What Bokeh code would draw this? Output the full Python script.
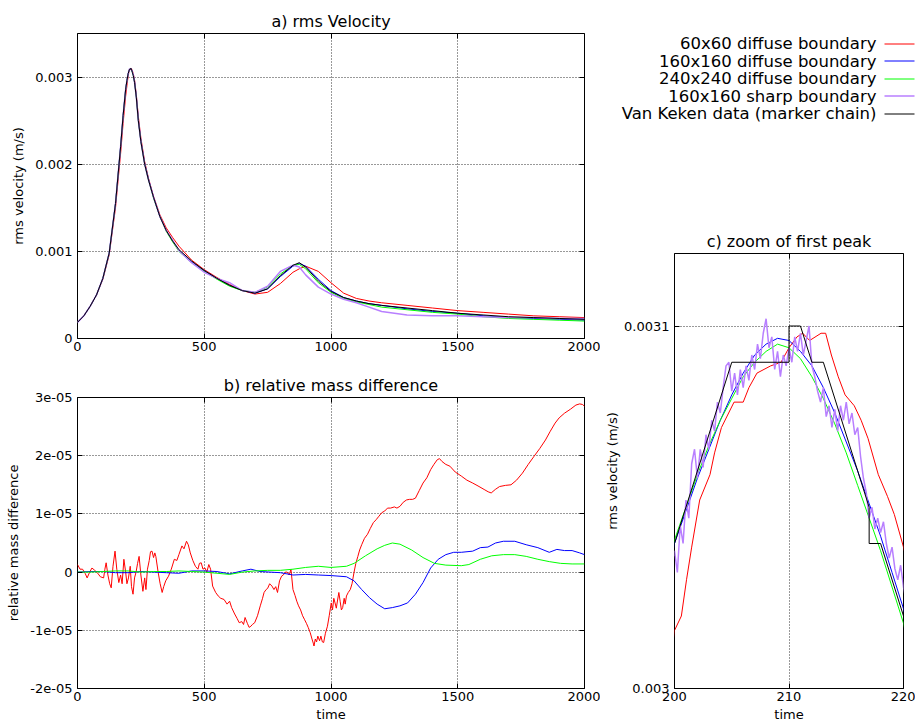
from bokeh.plotting import figure
from bokeh.models import Range1d, FixedTicker, LinearAxis, Title, Label, Arrow
from bokeh.layouts import row, column
from bokeh.embed import file_html
from bokeh.resources import INLINE

FONT = "DejaVu Sans"

# ---------------- legend / series ----------------
series_names = ["60x60 diffuse boundary", "160x160 diffuse boundary", "240x240 diffuse boundary",
                "160x160 sharp boundary", "Van Keken data (marker chain)"]
series_colors = ["#ff0000", "#0000ff", "#00ff00", "#b87fff", "#000000"]

# ---------------- a) rms velocity ----------------
t_early = [0, 25, 50, 75, 100, 125, 150, 170, 180, 190, 195]
t_late = [225, 232, 240, 250, 265, 280, 300, 325, 350, 375, 400, 450, 500, 550, 600, 650, 700, 750,
          800, 850, 875, 900, 950, 1000, 1050, 1100, 1150, 1200, 1300, 1400, 1500, 1600, 1700, 1800,
          1900, 2000]

v_early_common = [0.000185, 0.00026, 0.00037, 0.0005, 0.00069, 0.00098, 0.00155, 0.0022, 0.00256,
                  0.00286, 0.00296]
v_early_red = [0.000185, 0.00026, 0.00037, 0.0005, 0.00068, 0.00096, 0.0015, 0.00212, 0.00247,
               0.00278, 0.0029]

v_late_red = [0.00297, 0.0028, 0.00255, 0.0023, 0.00203, 0.00184, 0.00163, 0.00142, 0.00127, 0.00116,
              0.00106, 0.0009, 0.00079, 0.0007, 0.00062, 0.00055, 0.00051, 0.00053, 0.00063, 0.00076,
              0.0008, 0.00083, 0.00077, 0.00064, 0.00052, 0.00046, 0.00043, 0.00041, 0.00038, 0.00035,
              0.00032, 0.0003, 0.00028, 0.00026, 0.00025, 0.00024]
v_late_blue = [0.00295, 0.00278, 0.00251, 0.00227, 0.00201, 0.00183, 0.00162, 0.0014, 0.00124, 0.00112,
               0.00101, 0.00088, 0.00078, 0.00069, 0.00061, 0.00055, 0.00052, 0.00057, 0.00071, 0.00083,
               0.00086, 0.00083, 0.00068, 0.00055, 0.00047, 0.00043, 0.0004, 0.00038, 0.00034, 0.00031,
               0.00029, 0.00026, 0.00024, 0.00023, 0.00022, 0.00021]
v_late_green = [0.00294, 0.00277, 0.0025, 0.00226, 0.002, 0.00182, 0.00161, 0.0014, 0.00123, 0.00111,
                0.001, 0.00087, 0.00077, 0.00068, 0.0006, 0.00055, 0.00053, 0.00059, 0.00074, 0.00084,
                0.00085, 0.0008, 0.00064, 0.00053, 0.00046, 0.00042, 0.00039, 0.00036, 0.00033, 0.0003,
                0.00028, 0.00025, 0.00023, 0.00022, 0.00021, 0.0002]
v_late_lilac = [0.00294, 0.00277, 0.0025, 0.00226, 0.002, 0.00182, 0.00162, 0.0014, 0.00124, 0.00113,
                0.00101, 0.00087, 0.00076, 0.00069, 0.00064, 0.00055, 0.00053, 0.0006, 0.00077, 0.00084,
                0.00082, 0.00073, 0.00059, 0.00051, 0.00045, 0.00041, 0.00036, 0.00031, 0.00027, 0.00026,
                0.00026, 0.00025, 0.00024, 0.00024, 0.00023, 0.00023]
v_late_black = [0.00294, 0.00277, 0.0025, 0.00226, 0.002, 0.00182, 0.00162, 0.0014, 0.00124, 0.00112,
                0.00102, 0.00089, 0.00078, 0.00069, 0.00061, 0.00055, 0.00052, 0.00057, 0.00072, 0.00084,
                0.00087, 0.00082, 0.00066, 0.00054, 0.00047, 0.00043, 0.0004, 0.00038, 0.00035, 0.00032,
                0.00029, 0.00027, 0.00025, 0.00024, 0.00023, 0.00022]

# ---------------- c) first peak detail (t = 200..220) ----------------
red_peak_t = [200, 200.6, 201.05, 201.5, 202.2, 203.1, 203.5, 204.1, 205.2, 206.0, 206.5, 207.2, 208.4,
              209.3, 210.0, 210.7, 211.2, 211.8, 212.8, 213.2, 213.7, 214.3, 214.9, 215.7, 216.3, 216.9,
              217.8, 218.6, 219.2, 220]
red_peak_v = [0.003016, 0.00302, 0.00303, 0.003039, 0.003052, 0.003059, 0.003065, 0.003072, 0.003079,
              0.003079, 0.003083, 0.003087, 0.003089, 0.00309, 0.003094, 0.003097, 0.003098, 0.003096,
              0.003098, 0.003098, 0.003092, 0.003086, 0.003081, 0.003078, 0.003074, 0.003069, 0.003059,
              0.003053, 0.003048, 0.003039]
smooth_peak_t = [200, 201, 202, 203, 204, 205, 206, 207, 208, 209, 210, 211, 212, 213, 214, 215, 216,
                 217, 218, 219, 220]
blue_peak_v = [0.00304, 0.003049, 0.003058, 0.003066, 0.003074, 0.003081, 0.003087, 0.003092, 0.003095,
               0.0030966, 0.003096, 0.003093, 0.003089, 0.003083, 0.003076, 0.003068, 0.00306, 0.003051,
               0.003042, 0.003032, 0.003022]
green_peak_v = [0.003041, 0.00305, 0.003059, 0.003067, 0.003074, 0.00308, 0.003086, 0.00309, 0.003093,
                0.003095, 0.003094, 0.003091, 0.003086, 0.00308, 0.003073, 0.003065, 0.003056, 0.003047,
                0.003038, 0.003028, 0.003018]
lilac_peak_t = [200.0, 200.25, 200.5, 200.75, 201.0, 201.25, 201.5, 201.75, 202.0, 202.25, 202.5, 202.75,
                203.0, 203.25, 203.5, 203.75, 204.0, 204.25, 204.5, 204.75, 205.0, 205.25, 205.5, 205.75,
                206.0, 206.25, 206.5, 206.75, 207.0, 207.25, 207.5, 207.75, 208.0, 208.25, 208.5, 208.75,
                209.0, 209.25, 209.5, 209.75, 210.0, 210.25, 210.5, 210.75, 211.0, 211.25, 211.5, 211.75,
                212.0, 212.25, 212.5, 212.75, 213.0, 213.25, 213.5, 213.75, 214.0, 214.25, 214.5, 214.75,
                215.0, 215.25, 215.5, 215.75, 216.0, 216.25, 216.5, 216.75, 217.0, 217.25, 217.5, 217.75,
                218.0, 218.25, 218.5, 218.75, 219.0, 219.25, 219.5, 219.75, 220.0]
lilac_peak_v = [0.003038, 0.003032, 0.003045, 0.00304, 0.003052, 0.003047, 0.003062, 0.003066, 0.003058,
                0.003066, 0.003061, 0.00307, 0.003066, 0.003074, 0.003071, 0.003079, 0.003076, 0.003083,
                0.003089, 0.00309, 0.003082, 0.003087, 0.003081, 0.003088, 0.003083, 0.003089, 0.003085,
                0.003092, 0.003088, 0.003095, 0.003091, 0.003098, 0.003102, 0.003094, 0.003097, 0.003088,
                0.003093, 0.003086, 0.003092, 0.003089, 0.003094, 0.00309, 0.003097, 0.003093, 0.003098,
                0.003092, 0.003096, 0.0031, 0.003089, 0.003086, 0.003082, 0.003079, 0.003083, 0.003075,
                0.003078, 0.003072, 0.003077, 0.003071, 0.003078, 0.003074, 0.003079, 0.003073, 0.003076,
                0.00307, 0.003072, 0.003064, 0.003058, 0.003054, 0.003047, 0.00305, 0.003044, 0.003047,
                0.003043, 0.003046, 0.00304, 0.003036, 0.003039, 0.003033, 0.00303, 0.003034, 0.003028]
black_peak_t = [200, 205, 210, 210, 211, 212, 213, 217, 217, 218, 220]
black_peak_v = [0.00304, 0.00309, 0.00309, 0.0031, 0.0031, 0.00309, 0.00309, 0.00305, 0.00304, 0.00304,
                0.00302]

# ---------------- b) relative mass difference, (time, value in units of 1e-05) ----------------
mass_red = [
    (0, 0.13), (10, 0.05), (20, 0.05), (30, -0.02), (38, -0.1), (48, 0.0), (57, 0.07), (68, 0.03),
    (80, -0.02), (90, -0.08), (103, -0.1), (108, 0.05), (113, 0.16), (120, -0.05), (127, -0.2),
    (133, -0.27), (140, 0.1), (148, 0.36), (155, 0.05), (163, -0.18), (170, -0.05), (176, -0.2),
    (183, 0.22), (190, 0.0), (195, -0.2), (201, -0.1), (208, 0.1), (213, -0.25), (219, -0.38),
    (225, -0.1), (231, 0.0), (237, 0.15), (243, 0.27), (250, -0.05), (258, -0.33), (265, -0.1),
    (270, -0.3), (276, 0.05), (283, 0.2), (288, 0.35), (294, 0.36), (300, 0.25), (305, 0.33),
    (309, 0.27), (318, 0.0), (326, -0.2), (334, -0.35), (340, -0.25), (348, -0.15), (359, -0.07),
    (370, 0.05), (382, 0.22), (392, 0.2), (400, 0.3), (412, 0.45), (420, 0.4), (430, 0.53),
    (437, 0.47), (445, 0.33), (455, 0.2), (465, 0.1), (475, 0.05), (481, 0.15), (488, 0.16),
    (495, 0.05), (503, 0.07), (510, 0.0), (518, 0.13), (525, 0.05), (533, -0.24), (545, -0.35),
    (555, -0.41), (565, -0.45), (578, -0.47), (590, -0.55), (600, -0.5), (608, -0.61), (620, -0.72),
    (630, -0.8), (638, -0.87), (648, -0.85), (655, -0.9), (661, -0.78), (670, -0.88), (677, -0.95),
    (684, -0.93), (690, -0.9), (699, -0.87), (710, -0.75), (721, -0.58), (730, -0.45), (736, -0.35),
    (744, -0.3), (750, -0.28), (758, -0.2), (767, -0.24), (775, -0.3), (782, -0.25), (789, -0.35),
    (797, -0.15), (805, -0.07), (812, -0.05), (820, 0.0), (827, 0.0), (835, -0.05), (842, 0.05),
    (850, -0.3), (858, -0.4), (865, -0.5), (872, -0.58), (880, -0.65), (888, -0.75), (895, -0.81),
    (903, -0.88), (910, -0.95), (918, -1.04), (925, -1.15), (930, -1.22), (933, -1.27), (938, -1.15),
    (943, -1.2), (948, -1.1), (955, -1.18), (960, -1.1), (966, -1.2), (971, -1.21), (978, -1.05),
    (986, -0.93), (993, -0.75), (1001, -0.53), (1006, -0.65), (1011, -0.45), (1016, -0.53),
    (1021, -0.62), (1026, -0.48), (1031, -0.35), (1036, -0.5), (1041, -0.65), (1046, -0.61),
    (1052, -0.45), (1056, -0.55), (1061, -0.41), (1068, -0.35), (1076, -0.3), (1083, -0.2),
    (1091, 0.0), (1098, 0.15), (1106, 0.27), (1113, 0.38), (1121, 0.47), (1132, 0.58), (1144, 0.65),
    (1155, 0.75), (1167, 0.85), (1178, 0.9), (1189, 0.96), (1200, 1.02), (1212, 1.05), (1223, 1.1),
    (1235, 1.1), (1250, 1.12), (1260, 1.1), (1272, 1.13), (1285, 1.2), (1298, 1.24), (1310, 1.25),
    (1322, 1.25), (1333, 1.27), (1348, 1.4), (1363, 1.53), (1378, 1.62), (1393, 1.76), (1406, 1.85),
    (1419, 1.93), (1428, 1.95), (1438, 1.9), (1453, 1.85), (1469, 1.82), (1490, 1.72), (1514, 1.65),
    (1536, 1.58), (1559, 1.53), (1580, 1.48), (1604, 1.42), (1620, 1.38), (1632, 1.36), (1648, 1.42),
    (1665, 1.47), (1688, 1.49), (1710, 1.5), (1732, 1.58), (1755, 1.7), (1778, 1.85), (1801, 1.99),
    (1823, 2.12), (1846, 2.27), (1865, 2.42), (1884, 2.56), (1900, 2.65), (1921, 2.73), (1945, 2.8),
    (1966, 2.87), (1981, 2.89), (1992, 2.88), (2000, 2.85),
]
mass_blue = [
    (0, 0.0), (50, 0.01), (100, 0.01), (150, -0.01), (200, -0.01), (250, 0.01), (300, 0.0),
    (350, -0.01), (400, -0.02), (450, 0.02), (500, 0.02), (550, 0.01), (600, -0.03), (650, 0.02),
    (684, 0.05), (720, 0.01), (760, 0.0), (800, -0.01), (850, -0.05), (900, -0.04), (950, -0.05),
    (1001, -0.06), (1061, -0.08), (1091, -0.15), (1121, -0.3), (1152, -0.44), (1182, -0.55),
    (1212, -0.63), (1242, -0.61), (1272, -0.58), (1302, -0.53), (1333, -0.38), (1363, -0.18),
    (1393, 0.07), (1423, 0.22), (1453, 0.3), (1484, 0.34), (1514, 0.34), (1559, 0.36), (1589, 0.42),
    (1619, 0.43), (1649, 0.5), (1680, 0.53), (1725, 0.53), (1770, 0.47), (1816, 0.42), (1861, 0.34),
    (1891, 0.39), (1921, 0.37), (1951, 0.37), (1981, 0.33), (2000, 0.3),
]
mass_green = [
    (0, 0.0), (50, 0.0), (100, 0.01), (150, 0.02), (200, 0.02), (250, 0.0), (300, 0.01), (350, 0.01),
    (400, 0.02), (450, 0.01), (500, 0.0), (550, -0.02), (600, -0.04), (650, 0.0), (700, 0.02),
    (750, 0.03), (800, 0.03), (850, 0.05), (900, 0.08), (950, 0.1), (1000, 0.08), (1061, 0.1),
    (1091, 0.15), (1136, 0.28), (1182, 0.4), (1212, 0.46), (1242, 0.5), (1272, 0.48), (1318, 0.38),
    (1363, 0.25), (1408, 0.15), (1453, 0.12), (1514, 0.11), (1544, 0.13), (1589, 0.22), (1634, 0.28),
    (1680, 0.3), (1725, 0.3), (1770, 0.27), (1816, 0.22), (1861, 0.18), (1906, 0.15), (1951, 0.14),
    (2000, 0.14),
]

# ---------------- ticks ----------------
a_xticks = [0, 500, 1000, 1500, 2000]
a_yticks = [0.0, 0.001, 0.002, 0.003]
a_ylabels = ["0", "0.001", "0.002", "0.003"]
b_yticks = [-2e-05, -1e-05, 0.0, 1e-05, 2e-05, 3e-05]
b_ylabels = ["-2e-05", "-1e-05", "0", "1e-05", "2e-05", "3e-05"]
c_xticks = [200, 210, 220]
c_yticks = [0.003, 0.0031]
c_ylabels = ["0.003", "0.0031"]

# assemble full series (rise + peak detail + decay)
full_t = [
    t_early + red_peak_t + t_late,
    t_early + smooth_peak_t + t_late,
    t_early + smooth_peak_t + t_late,
    t_early + lilac_peak_t + t_late,
    t_early + black_peak_t + t_late,
]
full_v = [
    v_early_red + red_peak_v + v_late_red,
    v_early_common + blue_peak_v + v_late_blue,
    v_early_common + green_peak_v + v_late_green,
    v_early_common + lilac_peak_v + v_late_lilac,
    v_early_common + black_peak_v + v_late_black,
]
widths = [1, 1, 1, 1.5, 1]
SCALE_B = 1e-05
mass_series = [(mass_red, series_colors[0]), (mass_blue, series_colors[1]),
               (mass_green, series_colors[2])]


def no_align(p):
    try:
        p.frame_align = False
    except Exception:
        pass


def make_fig(w, h, xr, yr, bl, br, bt, bb):
    p = figure(width=w, height=h, x_range=Range1d(*xr), y_range=Range1d(*yr),
               output_backend="svg", toolbar_location=None, title_location=None,
               min_border_left=bl, min_border_right=br, min_border_top=bt, min_border_bottom=bb)
    p.outline_line_color = "black"
    p.outline_line_width = 1
    p.background_fill_color = "white"
    p.border_fill_color = "white"
    no_align(p)
    return p


def style_axes(p, xt, yt, ylab_vals, ylab_txt, xlabel, ylabel, title, gx, gy, ylab_standoff=6):
    for ax, ticks in ((p.xaxis[0], xt), (p.yaxis[0], yt)):
        ax.ticker = FixedTicker(ticks=ticks)
        ax.axis_line_color = None
        ax.major_tick_in = 5
        ax.major_tick_out = 0
        ax.major_tick_line_color = "black"
        ax.minor_tick_line_color = None
        ax.major_label_text_font = FONT
        ax.major_label_text_font_size = "13px"
        ax.major_label_text_color = "black"
        ax.axis_label_text_font = FONT
        ax.axis_label_text_font_size = "13px"
        ax.axis_label_text_font_style = "normal"
        ax.axis_label_text_color = "black"
    p.yaxis[0].major_label_overrides = dict(zip(ylab_vals, ylab_txt))
    p.xaxis[0].major_label_standoff = 3
    p.yaxis[0].major_label_standoff = 5
    p.xaxis[0].axis_label_standoff = 3
    p.yaxis[0].axis_label_standoff = ylab_standoff
    if xlabel:
        p.xaxis[0].axis_label = xlabel
    if ylabel:
        p.yaxis[0].axis_label = ylabel
    # mirrored ticks (no labels) on top and right
    for loc, ticks in (("above", xt), ("right", yt)):
        m = LinearAxis(ticker=FixedTicker(ticks=ticks), major_label_text_font_size="0px",
                       major_label_text_color=None, major_label_standoff=0,
                       axis_line_color=None, major_tick_in=5, major_tick_out=0,
                       minor_tick_line_color=None, major_tick_line_color="black")
        p.add_layout(m, loc)
    p.add_layout(Title(text=title, align="center", text_font=FONT, text_font_size="16px",
                       text_font_style="normal", text_color="black", standoff=6), "above")
    p.xgrid.ticker = FixedTicker(ticks=gx)
    p.ygrid.ticker = FixedTicker(ticks=gy)
    for g in (p.xgrid[0], p.ygrid[0]):
        g.grid_line_color = "black"
        g.grid_line_dash = "1 2"
        g.grid_line_width = 1
        g.grid_line_alpha = 0.8


# ---- panel a ----  (page x 0..600, y 0..358)
fa = make_fig(600, 358, (0, 2000), (0, 0.0035), 77, 16, 33, 20)
style_axes(fa, a_xticks, a_yticks, a_yticks, a_ylabels, None, "rms velocity (m/s)",
           "a) rms Velocity", a_xticks[1:-1], a_yticks[1:])
for t, v, c, w in zip(full_t, full_v, series_colors, widths):
    fa.line(t, v, line_color=c, line_width=w)

# ---- panel b ----  (page x 0..600, y 358..726)
fb = make_fig(600, 368, (0, 2000), (-2e-05, 3e-05), 77, 16, 39, 38)
style_axes(fb, a_xticks, b_yticks, b_yticks, b_ylabels, "time", "relative mass difference",
           "b) relative mass difference", a_xticks[1:-1], b_yticks[1:-1])
for pts, c in mass_series:
    fb.line([q[0] for q in pts], [q[1] * SCALE_B for q in pts], line_color=c, line_width=1)

# ---- legend ----  (page x 600..915, y 0..222; frame = whole canvas)
LEG_W, LEG_H = 315, 222
fl = figure(width=LEG_W, height=LEG_H, x_range=Range1d(0, LEG_W), y_range=Range1d(LEG_H, 0),
            output_backend="svg", toolbar_location=None, title_location=None,
            x_axis_location=None, y_axis_location=None, min_border=0)
no_align(fl)
fl.outline_line_color = None
fl.background_fill_color = "white"
fl.border_fill_color = "white"
for g in fl.grid:
    g.visible = False
for i, (name, col) in enumerate(zip(series_names, series_colors)):
    yy = 43 + 17.5 * i
    ly = int(yy) + 0.5
    fl.add_layout(Label(x=276, y=yy, text=name, text_align="right", text_baseline="middle",
                        text_font=FONT, text_font_size="16.5px", text_color="black"))
    fl.add_layout(Arrow(start=None, end=None, x_start=284, y_start=ly, x_end=314,
                        y_end=ly, line_color=col, line_width=widths[i]))

# ---- panel c ----  (page x 600..915, y 222..726)
fc = make_fig(315, 504, (200, 220), (0.003, 0.00312), 74, 12, 31, 38)
style_axes(fc, c_xticks, c_yticks, c_yticks, c_ylabels, "time", "rms velocity (m/s)",
           "c) zoom of first peak", [210], [0.0031], ylab_standoff=1)
for t, v, c, w in zip(full_t, full_v, series_colors, widths):
    fc.line(t, v, line_color=c, line_width=w)

layout = row(column(fa, fb), column(fl, fc))
open("out.html", "w").write(file_html(layout, INLINE))
